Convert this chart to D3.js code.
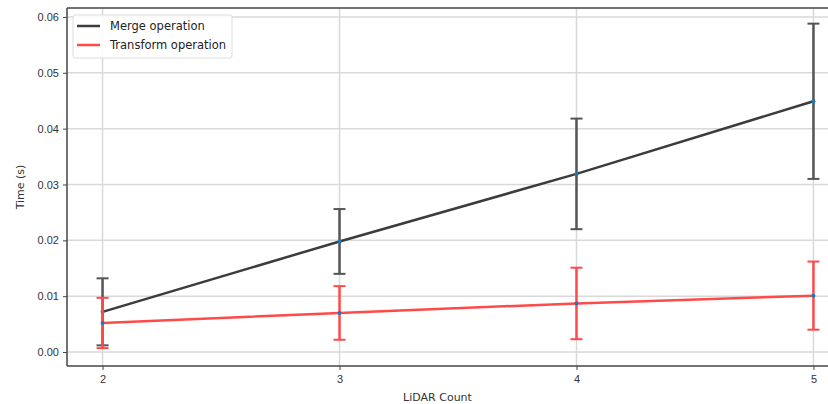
<!DOCTYPE html>
<html lang="en">
<head>
    <meta charset="UTF-8">
    <title>LiDAR Count vs Time</title>
    <script src="https://d3js.org/d3.v7.min.js"></script>
    <style>
        body { margin: 0; background: white; font-family: "DejaVu Sans", sans-serif; }
        svg { display: block; }
        .tick text { fill: #333; font-size: 11px; }
    </style>
</head>
<body>
    <svg id="chart" width="828" height="404"></svg>
    <script>
        const lidarCounts = [2, 3, 4, 5];
        const mergeMean = [0.0072, 0.0198, 0.0319, 0.0449];
        const mergeErr = [0.0060, 0.0058, 0.0099, 0.0139];
        const transformMean = [0.0052, 0.0070, 0.0087, 0.0101];
        const transformErr = [0.0045, 0.0048, 0.0064, 0.0061];
        const yTicks = [0.00, 0.01, 0.02, 0.03, 0.04, 0.05, 0.06];

        const series = [
            { name: "Merge operation", mean: mergeMean, err: mergeErr, color: "#3c3c3c", errColor: "#555" },
            { name: "Transform operation", mean: transformMean, err: transformErr, color: "#ff4a4a", errColor: "#ff4a4a" }
        ];

        const svg = d3.select("#chart");
        const mLeft = 67, mRight = 849, mTop = 8, mBottom = 366;

        const x = d3.scaleLinear().domain([1.85, 5.15]).range([mLeft, mRight]);
        const y = d3.scaleLinear().domain([-0.0025, 0.0616]).range([mBottom, mTop]);

        // grid
        svg.append("g").selectAll("line").data(yTicks).enter().append("line")
            .attr("x1", mLeft).attr("x2", mRight)
            .attr("y1", d => y(d)).attr("y2", d => y(d))
            .attr("stroke", "#d9d9d9").attr("stroke-width", 1.5);
        svg.append("g").selectAll("line").data(lidarCounts).enter().append("line")
            .attr("x1", d => x(d)).attr("x2", d => x(d))
            .attr("y1", mTop).attr("y2", mBottom)
            .attr("stroke", "#d9d9d9").attr("stroke-width", 1.5);

        // axes
        const yAxis = svg.append("g").attr("transform", `translate(${mLeft},0)`)
            .call(d3.axisLeft(y).tickValues(yTicks).tickFormat(d3.format(".2f")).tickSize(4).tickPadding(4));
        const xAxis = svg.append("g").attr("transform", `translate(0,${mBottom})`)
            .call(d3.axisBottom(x).tickValues(lidarCounts).tickFormat(d3.format("d")).tickSize(4).tickPadding(5));
        [yAxis, xAxis].forEach(a => {
            a.select(".domain").remove();
            a.selectAll(".tick line").attr("stroke", "#444");
        });

        // spines
        svg.append("line").attr("x1", mLeft).attr("x2", mLeft).attr("y1", mTop).attr("y2", mBottom)
            .attr("stroke", "#444").attr("stroke-width", 1.5);
        svg.append("line").attr("x1", mLeft).attr("x2", mRight).attr("y1", mBottom).attr("y2", mBottom)
            .attr("stroke", "#444").attr("stroke-width", 1.5);
        svg.append("line").attr("x1", mLeft).attr("x2", mRight).attr("y1", mTop).attr("y2", mTop)
            .attr("stroke", "#444").attr("stroke-width", 1.5);

        const line = d3.line().x(d => x(d[0])).y(d => y(d[1]));

        series.forEach(s => {
            const pts = lidarCounts.map((c, i) => [c, s.mean[i], s.err[i]]);
            const g = svg.append("g");
            g.append("path").datum(pts).attr("d", line)
                .attr("fill", "none").attr("stroke", s.color).attr("stroke-width", 2.5);
            // error bars
            const eb = g.selectAll("g.eb").data(pts).enter().append("g");
            eb.append("line")
                .attr("x1", d => x(d[0])).attr("x2", d => x(d[0]))
                .attr("y1", d => y(d[1] + d[2])).attr("y2", d => y(d[1] - d[2]))
                .attr("stroke", s.errColor).attr("stroke-width", 2.5);
            [1, -1].forEach(sign => {
                eb.append("line")
                    .attr("x1", d => x(d[0]) - 6).attr("x2", d => x(d[0]) + 6)
                    .attr("y1", d => y(d[1] + sign * d[2])).attr("y2", d => y(d[1] + sign * d[2]))
                    .attr("stroke", s.errColor).attr("stroke-width", 2);
            });
            g.selectAll("circle").data(pts).enter().append("circle")
                .attr("cx", d => x(d[0])).attr("cy", d => y(d[1])).attr("r", 2)
                .attr("fill", "#1f77b4");
        });

        // legend
        const lg = svg.append("g").attr("transform", "translate(73,15)");
        lg.append("rect").attr("width", 159).attr("height", 43).attr("rx", 2)
            .attr("fill", "white").attr("fill-opacity", 0.85).attr("stroke", "#ddd");
        series.forEach((s, i) => {
            const yy = 11 + i * 19;
            lg.append("line").attr("x1", 4).attr("x2", 27).attr("y1", yy).attr("y2", yy)
                .attr("stroke", s.color).attr("stroke-width", 2.5);
            lg.append("text").attr("x", 37).attr("y", yy + 4)
                .attr("font-size", "11.5px").attr("fill", "#222").text(s.name);
        });

        // labels
        svg.append("text").attr("x", (mLeft + 828) / 2 - 10).attr("y", 401)
            .attr("text-anchor", "middle").attr("font-size", "11px").attr("fill", "#333").text("LiDAR Count");
        svg.append("text").attr("transform", `translate(24,${(mTop + mBottom) / 2}) rotate(-90)`)
            .attr("text-anchor", "middle").attr("font-size", "11px").attr("fill", "#333").text("Time (s)");
    </script>
</body>
</html>
